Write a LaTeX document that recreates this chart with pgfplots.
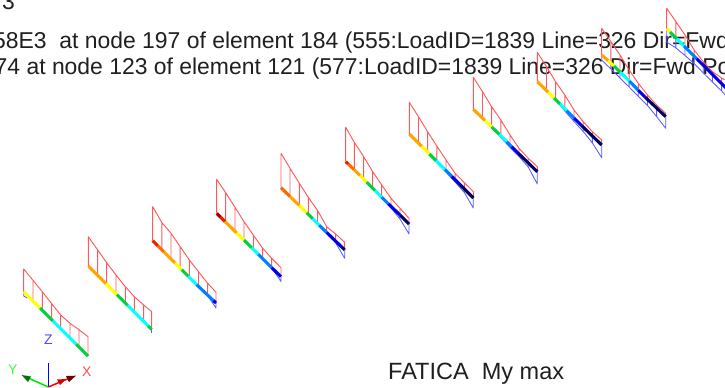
\documentclass[border=0pt]{standalone}
\usepackage{fontspec}
\setmainfont{Liberation Sans}
\usepackage{pgfplots}
\pgfplotsset{compat=1.18}
\definecolor{cDarkRed}{HTML}{A80000}
\definecolor{cRed}{HTML}{E82000}
\definecolor{cOrangeRed}{HTML}{FF6A00}
\definecolor{cOrange}{HTML}{FFA500}
\definecolor{cYellow}{HTML}{FFFF00}
\definecolor{cGreen}{HTML}{00D040}
\definecolor{cCyan}{HTML}{00FFFF}
\definecolor{cDodger}{HTML}{0080FF}
\definecolor{cBlue}{HTML}{0000E0}
\definecolor{cNavy}{HTML}{000060}
\definecolor{cRedLine}{HTML}{FF5A5A}
\definecolor{cBlueLine}{HTML}{5A5AFF}
\begin{document}
\begin{tikzpicture}[x=1bp,y=1bp]
\path[use as bounding box,clip] (0,0) rectangle (725,387);
\fontsize{23}{27}\selectfont
\node[anchor=base west,inner sep=0pt,text=black!88] at (2,378) {3};
\node[anchor=base west,inner sep=0pt,text=black!88] at (-7,338.5) {58E3\ \ at node 197 of element 184 (555:LoadID=1839 Line=326 Dir=Fwd Pos};
\node[anchor=base west,inner sep=0pt,text=black!88] at (-5.5,313) {74 at node 123 of element 121 (577:LoadID=1839 Line=326 Dir=Fwd Pos};
\node[anchor=base west,inner sep=0pt,text=black!88,font=\fontsize{23.6}{27}\selectfont] at (388,8) {FATICA\ \ My max};
\begin{axis}[
  at={(0,0)},anchor=south west,
  scale only axis,width=725bp,height=387bp,
  xmin=0,xmax=725,ymin=0,ymax=387,y dir=reverse,
  axis lines=none,clip=true,
  unbounded coords=jump,
  redline/.style={no marks,color=cRedLine,line width=0.95bp,line join=round},
  blueline/.style={no marks,color=cBlueLine,line width=0.85bp,line join=round},
  band/.style={no marks,line width=3.1bp,line cap=butt},
]
% --- force diagrams (red): base - top - next top - next base ...
\addplot[redline] coordinates {(23.7,291.7)(23.7,269)(33,280.3)(33,301)(33,280.3)(42.3,291.7)(42.3,310.3)(42.3,291.7)(51.7,303.7)(51.7,319.7)(51.7,303.7)(60.7,315)(60.7,328.7)(60.7,315)(70,323.3)(70,338)(70,323.3)(79,329.7)(79,347)(79,329.7)(88,336.7)(88,356)};
\addplot[redline] coordinates {(88.3,266)(88.3,236.7)(97.7,250)(97.7,275.4)(97.7,250)(106.7,262.7)(106.7,284.4)(106.7,262.7)(116,275)(116,293.7)(116,275)(125.3,286.7)(125.3,303)(125.3,286.7)(134.3,296.7)(134.3,312)(134.3,296.7)(143.7,305)(143.7,321.4)(143.7,305)(151.7,311.7)(151.7,329.4)};
\addplot[redline] coordinates {(152.7,240.7)(152.7,206.7)(161.9,222.7)(161.9,249.9)(161.9,222.7)(171,233.3)(171,259)(171,233.3)(180.2,246.7)(180.2,268.2)(180.2,246.7)(189.4,260)(189.4,277.4)(189.4,260)(198.5,271.7)(198.5,286.5)(198.5,271.7)(207.7,283.3)(207.7,295.7)(207.7,283.3)(216,292.3)(216,303)};
\addplot[redline] coordinates {(216.7,213.3)(216.7,179.3)(225.7,192.7)(225.7,222.3)(225.7,192.7)(235,207.3)(235,231.3)(235,207.3)(244,221.7)(244,240.3)(244,221.7)(253.3,235)(253.3,249.3)(253.3,235)(262.7,248.3)(262.7,258.3)(262.7,248.3)(271.7,258.3)(271.7,267.7)(271.7,258.3)(281,267.7)(281,276.7)};
\addplot[redline] coordinates {(281,187.7)(281,153.3)(290,168.3)(290,196.7)(290,168.3)(299.3,183.3)(299.3,205.7)(299.3,183.3)(308.3,197.3)(308.3,214.7)(308.3,197.3)(317.7,210.7)(317.7,223.3)(317.7,210.7)(326.7,226.7)(326.7,232.3)(326.7,226.7)(335.7,234)(335.7,241)(335.7,234)(344.7,242.3)(344.7,250)};
\addplot[redline] coordinates {(345.7,161.7)(345.7,127.3)(354.3,142.3)(354.3,170.7)(354.3,142.3)(363.7,156.7)(363.7,179.3)(363.7,156.7)(372.7,171.7)(372.7,188.3)(372.7,171.7)(381.7,185)(381.7,197.3)(381.7,185)(391,198.3)(391,206.3)(391,198.3)(400,208.3)(400,215)(400,208.3)(409,218.3)(409,224)};
\addplot[redline] coordinates {(409.3,134)(409.3,102.3)(418.5,116.7)(418.5,143.2)(418.5,116.7)(427.6,131.7)(427.6,152.3)(427.6,131.7)(436.8,146)(436.8,161.5)(436.8,146)(446,160)(446,170.7)(446,160)(455.1,173.3)(455.1,179.8)(455.1,173.3)(464.3,182.7)(464.3,189)(464.3,182.7)(473.3,191.5)(473.3,198)};
\addplot[redline] coordinates {(473.3,109.3)(473.3,77.3)(482.5,91.7)(482.5,118)(482.5,91.7)(491.6,106.7)(491.6,127)(491.6,106.7)(500.8,120)(500.8,136)(500.8,120)(510,135)(510,145)(510,135)(519,148.3)(519,154)(519,148.3)(528.2,158.3)(528.2,163)(528.2,158.3)(537.3,166.7)(537.3,171.7)};
\addplot[redline] coordinates {(537.3,81.7)(537.3,52.3)(546.5,66.7)(546.5,90.6)(546.5,66.7)(555.6,81.7)(555.6,99.6)(555.6,81.7)(564.8,95)(564.8,108.8)(564.8,95)(574,110)(574,118)(574,110)(583.2,121.7)(583.2,127.2)(583.2,121.7)(592.4,131.7)(592.4,136.4)(592.4,131.7)(601.7,140)(601.7,145)};
\addplot[redline] coordinates {(601.7,55)(601.7,28.3)(610.9,41.7)(610.9,63)(610.9,41.7)(620,55)(620,72)(620,55)(629.1,70)(629.1,81)(629.1,70)(638.3,83.3)(638.3,90.3)(638.3,83.3)(647.5,95)(647.5,99.5)(647.5,95)(656.6,105)(656.6,108.6)(656.6,105)(665.7,113.3)(665.7,116.7)};
\addplot[redline] coordinates {(666.7,28.7)(666.7,8.3)(675.9,21.7)(675.9,37.9)(675.9,21.7)(685,35)(685,47)(685,35)(694.1,50)(694.1,56.1)(694.1,50)(703.3,61.7)(703.3,65.3)(703.3,61.7)(712.5,71.7)(712.5,74.5)(712.5,71.7)(721.6,78)(721.6,83.6)(721.6,78)(730.8,83)(730.8,92.8)};
% --- lower diagrams (blue)
\addplot[blueline] coordinates {(23.7,291.7)(23.7,296)(27,298)};
\addplot[blueline] coordinates {(151.7,329.4)(151.7,332.5)};
\addplot[blueline] coordinates {(207.7,295.7)(216,308)(216,303)};
\addplot[blueline] coordinates {(271.7,267.7)(281,281.5)(281,276.7)};
\addplot[blueline] coordinates {(326.7,232.5)(335.7,243)(335.7,241)(335.7,243)(344.7,258.3)(344.7,250)};
\addplot[blueline] coordinates {(381.7,197.3)(391,208)(391,206.3)(391,208)(400,219)(400,215)(400,219)(409,234)(409,224)};
\addplot[blueline] coordinates {(436.8,161.5)(446,172)(446,170)(446,172)(455.1,182)(455.1,179.8)(455.1,182)(464.3,192.5)(464.3,189)(464.3,192.5)(473.3,208)(473.3,198)};
\addplot[blueline] coordinates {(491.6,127)(500.8,137.5)(500.8,136)(500.8,137.5)(510,147.5)(510,145)(510,147.5)(519,156.5)(519,154)(519,156.5)(528.2,167)(528.2,163)(528.2,167)(537.3,184)(537.3,171.7)};
\addplot[blueline] coordinates {(555.6,99.6)(564.8,111)(564.8,108.8)(564.8,111)(574,121.5)(574,118)(574,121.5)(583.2,131.5)(583.2,127.2)(583.2,131.5)(592.4,143)(592.4,136.4)(592.4,143)(601.7,157.7)(601.7,145)};
\addplot[blueline] coordinates {(601.7,55)(601.7,60)(610.9,69)(610.9,63)(610.9,69)(620,78)(620,72)(620,78)(629.1,87)(629.1,81)(629.1,87)(638.3,96.3)(638.3,90.3)(638.3,96.3)(647.5,105.5)(647.5,99.5)(647.5,105.5)(656.6,116.6)(656.6,108.6)(656.6,116.6)(665.7,128.3)(665.7,116.7)};
\addplot[blueline] coordinates {(666.7,28.7)(666.7,42)(675.9,48)(675.9,37.9)(675.9,48)(685,55.5)(685,47)(685,55.5)(694.1,63.5)(694.1,56.1)(694.1,63.5)(703.3,73)(703.3,65.3)(703.3,73)(712.5,82)(712.5,74.5)(712.5,82)(721.6,91)(721.6,83.6)(721.6,91)(730.8,101)};
% --- colour bands along the beams
\addplot[band,color=cDarkRed] coordinates {(216.7,213.3)(220.7,217.3)};
\addplot[band,color=cRed] coordinates {(152.7,240.7)(158,246) (nan,nan) (220.7,217.3)(225,221.6) (nan,nan) (345.7,161.7)(348.3,164)};
\addplot[band,color=cOrangeRed] coordinates {(281,187.7)(290,196.5) (nan,nan) (158,246)(164,252) (nan,nan) (348.3,164)(354,169.5)};
\addplot[band,color=cOrange] coordinates {(88.3,266)(106,283.7) (nan,nan) (164,252)(175,263) (nan,nan) (225,221.6)(236.7,233) (nan,nan) (290,196.5)(299.3,205.5) (nan,nan) (354,169.5)(360,175.5) (nan,nan) (409.3,134)(421.7,146.4) (nan,nan) (473.3,109.3)(485,120.5) (nan,nan) (537.3,81.7)(548.3,92.3) (nan,nan) (601.7,55)(608.3,60.8)};
\addplot[band,color=cYellow] coordinates {(23.7,291.7)(40,308) (nan,nan) (106,283.7)(117,294.7) (nan,nan) (175,263)(181.7,269.7) (nan,nan) (236.7,233)(244,240) (nan,nan) (299.3,205.5)(306.7,212.7) (nan,nan) (360,175.5)(366.7,182.2) (nan,nan) (421.7,146.4)(429.3,154) (nan,nan) (485,120.5)(491.7,127) (nan,nan) (548.3,92.3)(554,98) (nan,nan) (608.3,60.8)(614,66) (nan,nan) (666.7,28.7)(670,32)};
\addplot[band,color=cGreen] coordinates {(40,308)(53,321) (nan,nan) (76,344)(88,356) (nan,nan) (117,294.7)(127.7,305.4) (nan,nan) (148,325.7)(151.7,329.4) (nan,nan) (181.7,269.7)(188.3,276.3) (nan,nan) (244,240)(251.7,247.7) (nan,nan) (306.7,212.7)(312.7,218.7) (nan,nan) (366.7,182.2)(375,190.5) (nan,nan) (429.3,154)(436,160.7) (nan,nan) (491.7,127)(499.3,134.3) (nan,nan) (554,98)(560,104) (nan,nan) (614,66)(620,72) (nan,nan) (670,32)(676.7,38.7)};
\addplot[band,color=cCyan] coordinates {(53,321)(76,344) (nan,nan) (127.7,305.4)(148,325.7) (nan,nan) (188.3,276.3)(196.7,284.7) (nan,nan) (251.7,247.7)(258.3,254.3) (nan,nan) (312.7,218.7)(319.3,225.3) (nan,nan) (375,190.5)(381.7,197.2) (nan,nan) (436,160.7)(445,169.7) (nan,nan) (499.3,134.3)(506.7,141.7) (nan,nan) (560,104)(566.7,110.7) (nan,nan) (620,72)(629.3,81) (nan,nan) (676.7,38.7)(684,46)};
\addplot[band,color=cDodger] coordinates {(196.7,284.7)(213.3,300.5) (nan,nan) (258.3,254.3)(271.7,267.7) (nan,nan) (319.3,225.3)(326.7,232.5) (nan,nan) (381.7,197.2)(388.3,203.8) (nan,nan) (445,169.7)(451.7,176.4) (nan,nan) (506.7,141.7)(511.7,146.7) (nan,nan) (566.7,110.7)(574,118) (nan,nan) (629.3,81)(638.3,90.3) (nan,nan) (684,46)(696.7,58.7)};
\addplot[band,color=cBlue] coordinates {(213.3,300.5)(216,303) (nan,nan) (271.7,267.7)(281,276.7) (nan,nan) (326.7,232.5)(341.7,247) (nan,nan) (388.3,203.8)(400,215) (nan,nan) (451.7,176.4)(460,184.7) (nan,nan) (511.7,146.7)(518.3,153.3) (nan,nan) (574,118)(581.7,125.7) (nan,nan) (638.3,90.3)(645,97) (nan,nan) (696.7,58.7)(730,92)};
\addplot[band,color=cNavy] coordinates {(341.7,247)(344.7,250) (nan,nan) (400,215)(409,224) (nan,nan) (460,184.7)(473.3,198) (nan,nan) (518.3,153.3)(537.3,171.7) (nan,nan) (581.7,125.7)(601.7,145) (nan,nan) (645,97)(665.7,116.7)};
% --- global axes triad
\addplot[no marks,color=blue,line width=1.6bp] coordinates {(48.3,387)(48.3,362.7)};
\addplot[no marks,color=green!90!black,line width=1.5bp] coordinates {(48.3,387)(26,377)};
\addplot[no marks,color=red,line width=1.5bp] coordinates {(48.3,387)(72,377)};
\addplot[draw=none,fill=green!45!black] coordinates {(21.7,375)(31,376.5)(28,382)} -- cycle;
\addplot[draw=none,fill=red!45!black] coordinates {(76,375.7)(66,376)(69,382)} -- cycle;
\addplot[draw=none,fill=red!85!black] coordinates {(66,379)(57,379.5)(60,385)} -- cycle;
\node[anchor=center,inner sep=0pt,text=blue!70,font=\fontsize{14}{16}\selectfont] at (48.3,339.5) {Z};
\node[anchor=center,inner sep=0pt,text=green!80,font=\fontsize{14}{16}\selectfont] at (12.7,370) {Y};
\node[anchor=center,inner sep=0pt,text=red!70,font=\fontsize{14}{16}\selectfont] at (86.7,371.3) {X};
\end{axis}
\end{tikzpicture}
\end{document}
